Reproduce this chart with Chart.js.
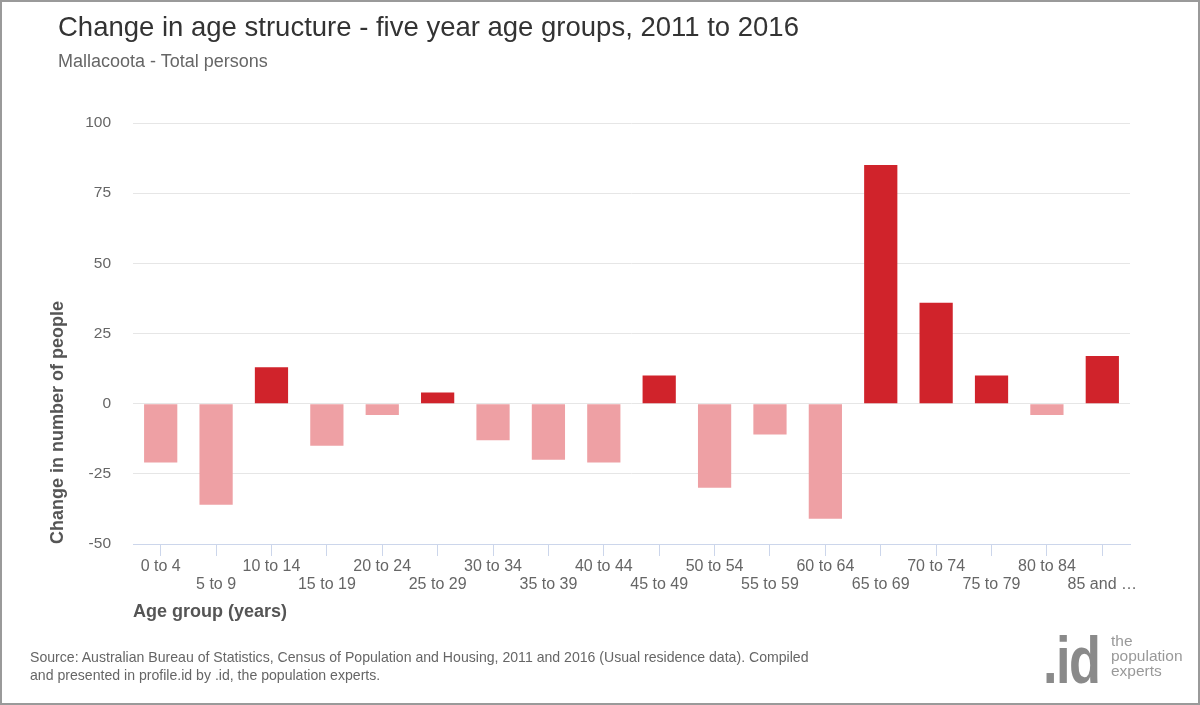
<!DOCTYPE html>
<html>
<head>
<meta charset="utf-8">
<script src="https://cdn.jsdelivr.net/npm/chart.js@4/dist/chart.umd.min.js"></script>
<style>
  html, body { margin: 0; padding: 0; background: #fff; }
  #page { position: relative; width: 1200px; height: 705px; overflow: hidden; font-family: "Liberation Sans", Arial, sans-serif; }
  #frame { position: absolute; left: 0; top: 0; width: 1200px; height: 705px; box-sizing: border-box; border: 2px solid #9a9a9a; pointer-events: none; }
  #chartBox { position: absolute; left: 0; top: 0; width: 1200px; height: 705px; }
  .title { position: absolute; left: 58px; top: 13px; font-size: 27.5px; line-height: 1; color: #333; white-space: nowrap; }
  .subtitle { position: absolute; left: 58px; top: 52px; font-size: 18px; line-height: 1; color: #666; white-space: nowrap; }
  .source { position: absolute; left: 30px; top: 648px; font-size: 14.1px; line-height: 18px; color: #666; white-space: nowrap; }
  .logo { position: absolute; left: 1043px; top: 626px; font-size: 67px; line-height: 1; font-weight: bold; color: #8a8a8a; transform: scaleX(0.78); transform-origin: left top; letter-spacing: -2px; }
  .tagline { position: absolute; left: 1111px; top: 633px; font-size: 15.5px; line-height: 15px; color: #999; }
</style>
</head>
<body>
<div id="page">
  <div id="chartBox"><canvas id="myChart"></canvas></div>
  <div class="title">Change in age structure - five year age groups, 2011 to 2016</div>
  <div class="subtitle">Mallacoota - Total persons</div>
  <div class="source">Source: Australian Bureau of Statistics, Census of Population and Housing, 2011 and 2016 (Usual residence data). Compiled<br>and presented in profile.id by .id, the population experts.</div>
  <div class="logo">.id</div>
  <div class="tagline">the<br>population<br>experts</div>
  <div id="frame"></div>
</div>
<script>
// age groups and change in persons, 2011 -> 2016
const ageGroups = [
  "0 to 4", "5 to 9", "10 to 14", "15 to 19", "20 to 24", "25 to 29",
  "30 to 34", "35 to 39", "40 to 44", "45 to 49", "50 to 54", "55 to 59",
  "60 to 64", "65 to 69", "70 to 74", "75 to 79", "80 to 84", "85 and …"
];
const changeValues = [-21, -36, 13, -15, -4, 4, -13, -20, -21, 10, -30, -11, -41, 85, 36, 10, -4, 17];
const yTicks = [-50, -25, 0, 25, 50, 75, 100];

const upColor = "#d0232b";
const downColor = "#eea0a4";

Chart.defaults.font.family = '"Liberation Sans", Arial, sans-serif';

// stagger the labels onto two rows like the original
const staggered = ageGroups.map((g, i) => (i % 2 === 0 ? [g] : ["", g]));

var ctx = document.getElementById("myChart").getContext("2d");
var myChart = new Chart(ctx, {
  type: "bar",
  data: {
    labels: staggered,
    datasets: [
      {
        label: "Change in number of people",
        data: changeValues,
        backgroundColor: changeValues.map((v) => (v >= 0 ? upColor : downColor)),
        barPercentage: 0.6,
        categoryPercentage: 1.0,
      },
    ],
  },
  options: {
    responsive: true,
    maintainAspectRatio: false,
    animation: false,
    layout: { padding: { top: 123, right: 70, bottom: 82, left: 0 } },
    plugins: {
      legend: { display: false },
      tooltip: { enabled: false },
    },
    scales: {
      x: {
        grid: {
          drawOnChartArea: false,
          offset: false,
          tickLength: 12,
          color: "#ccd6eb",
        },
        border: { display: true, color: "#ccd6eb" },
        ticks: {
          autoSkip: false,
          maxRotation: 0,
          minRotation: 0,
          padding: 1,
          color: "#666",
          font: { size: 16, lineHeight: 1.15 },
        },
        title: {
          display: true,
          text: "Age group (years)",
          align: "start",
          color: "#555",
          padding: { top: 0, bottom: 0 },
          font: { size: 18, weight: "bold" },
        },
        afterFit: (scale) => {
          scale.height = 79;
        },
      },
      y: {
        min: yTicks[0],
        max: yTicks[yTicks.length - 1],
        afterBuildTicks: (scale) => {
          scale.ticks = yTicks.map((v) => ({ value: v }));
        },
        grid: { color: "#e6e6e6", drawTicks: false },
        border: { display: false },
        ticks: {
          padding: 22,
          color: "#666",
          font: { size: 15.5 },
        },
        title: {
          display: true,
          text: "Change in number of people",
          align: "start",
          color: "#555",
          padding: { top: 47, bottom: 0 },
          font: { size: 18, weight: "bold" },
        },
        afterFit: (scale) => {
          scale.width = 133;
        },
      },
    },
  },
});
</script>
</body>
</html>
